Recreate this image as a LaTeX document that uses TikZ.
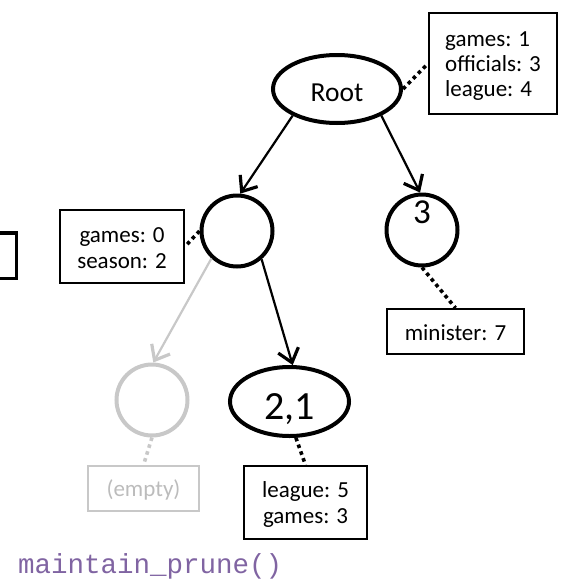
\documentclass[tikz,border=0pt]{standalone}
\usepackage{fontspec}
\setmainfont{Carlito}
\newfontfamily\codefont{Liberation Mono}
\usetikzlibrary{arrows.meta,shapes.geometric}
\definecolor{faded}{RGB}{200,200,200}
\definecolor{fadedtext}{RGB}{188,188,188}
\definecolor{codepurple}{RGB}{128,100,162}
% line strut: keeps every text line the same height so lines centre evenly
\newcommand\lstrut{\rule[-0.12em]{0pt}{1em}}

\begin{document}
\begin{tikzpicture}[x=1pt,y=-1pt,
  infobox/.style={draw, line width=2pt, inner sep=0pt, align=center,
    font=\fontsize{23}{26}\selectfont},
  treenode/.style={circle, draw, line width=4pt, inner sep=0pt, minimum size=71pt},
  ovalnode/.style={ellipse, draw, line width=4pt, inner sep=0pt, text depth=0pt},
  link/.style={line width=2.2pt, -{Straight Barb[length=13pt,width=21pt,line width=3.2pt]}},
  dots/.style={line width=3.6pt, dash pattern=on 3.6pt off 3.6pt},
  gone/.style={draw=faded, text=fadedtext}
]
\useasboundingbox (0,0) rectangle (566,581);

% tree nodes
\node[ovalnode, minimum width=128pt, minimum height=68pt, text height=24.2pt,
  font=\fontsize{27.5}{30}\selectfont] (root) at (337,89) {Root};
\node[treenode] (lc) at (237,231) {};
\node[treenode, label={[font=\fontsize{35}{35}\selectfont, inner sep=0pt,
  text height=22pt, text depth=0pt, yshift=17.5pt]center:3}] (rc) at (422,230) {};
\node[treenode, draw=faded] (gc) at (152,400) {};
\node[ovalnode, minimum width=119pt, minimum height=69pt, text height=35.2pt,
  font=\fontsize{40}{44}\selectfont] (e21) at (289.5,401.5) {2,1};

% posting lists attached to the nodes
\node[infobox, align=left, font=\fontsize{23}{25}\selectfont,
  minimum width=128pt, minimum height=101pt] (rootlist) at (493,63.5)
  {\lstrut games: 1\\ \lstrut officials: 3\\ \lstrut league: 4};
\node[infobox, minimum width=124pt, minimum height=73pt] (lclist) at (122,246.5)
  {\lstrut games: 0\\ \lstrut season: 2};
\node[infobox, minimum width=137pt, minimum height=45pt] (rclist) at (455.5,331.5)
  {\lstrut minister: 7};
\node[infobox, gone, minimum width=111pt, minimum height=45pt] (gclist) at (143.5,488.5)
  {\lstrut (empty)};
\node[infobox, minimum width=123pt, minimum height=73pt] (e21list) at (305.5,502.5)
  {\lstrut league: 5\\ \lstrut games: 3};

% box cut off at the left edge
\node[draw, line width=3.5pt, inner sep=0pt, minimum width=72.5pt,
  minimum height=45.5pt] (cut) at (-20,255.5) {};

% tree edges
\draw[link] (root.211) -- (lc.85);
\draw[link] (root.329) -- (rc.93);
\draw[link] (lc.311) -- (e21.85);
\draw[link, faded] (lc.227) -- (gc.88);

% node-to-list connectors
\draw[dots] (root.east) -- (rootlist.west);
\draw[dots] (lc.west) -- (lclist.east);
\draw[dots] (rc.south) -- (rclist.north);
\draw[dots] (e21.-80) -- (e21list.north);
\draw[dots, faded] (gc.south) -- (gclist.north);

% caption
\node[anchor=base west, inner sep=0pt, text=codepurple,
  font=\codefont\fontsize{27.5}{30}\selectfont] (caption) at (18,573)
  {maintain\_prune()};
\end{tikzpicture}
\end{document}
